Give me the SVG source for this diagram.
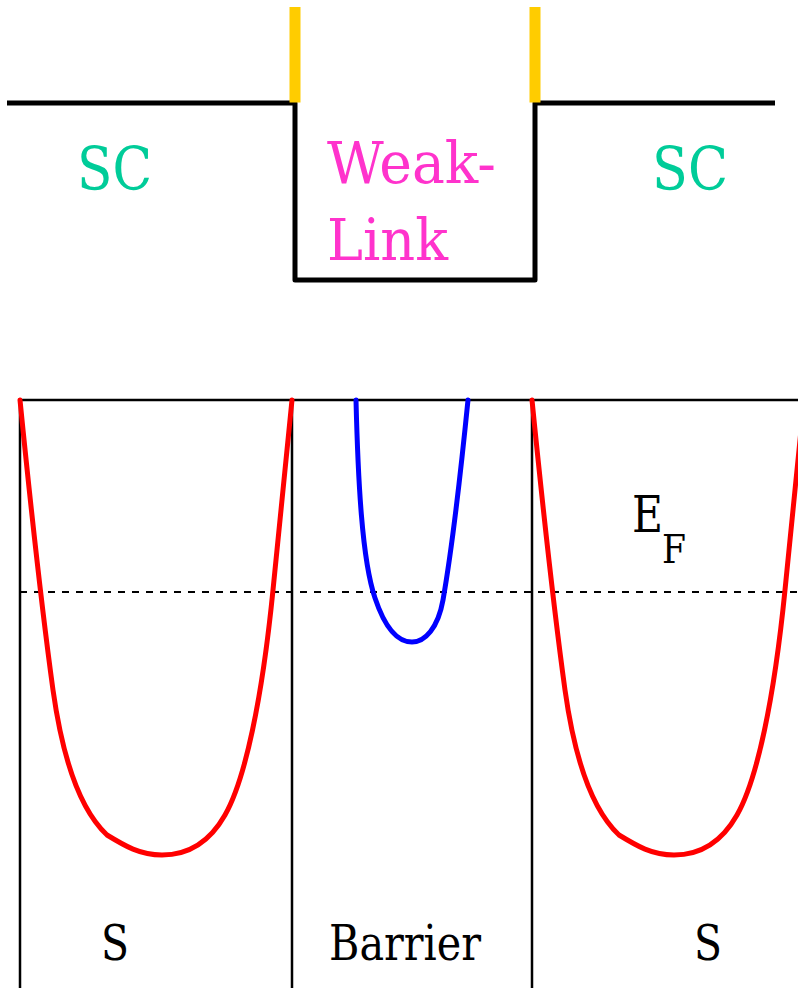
<svg xmlns="http://www.w3.org/2000/svg" xmlns:xlink="http://www.w3.org/1999/xlink" width="798" height="988" viewBox="0 0 798 988">
<style>
text{font-family:'DejaVu Serif','Liberation Serif',serif;}
.sc{fill:#00CC99;font-size:60px;}
.wl{fill:#FF33CC;font-size:57px;}
.lb{fill:#000;font-size:48px;}
.frame{stroke:#000;stroke-width:2.5;fill:none;}
.band{fill:none;stroke-width:5;stroke-linejoin:round;stroke-linecap:round;}
</style>
<defs>
<path id="sband" d="M20,400 C30,500 42,610 53,690 C60,740 75,805 107,835 C125,846 140,855 162,855 C185,855 208,845 225,815 C245,780 262,700 273,590 L292,400"/>
</defs>
<rect width="798" height="988" fill="#fff"/>
<g id="junction">
<path d="M7,103 H295 V280 H535 V103 H775" fill="none" stroke="#000" stroke-width="5" stroke-linejoin="round"/>
<rect x="289.5" y="7" width="11" height="95.5" fill="#FFCC00"/>
<rect x="529.5" y="7" width="11" height="95.5" fill="#FFCC00"/>
</g>
<g id="labels-top">
<text class="sc" x="77" y="190" textLength="75" lengthAdjust="spacingAndGlyphs">SC</text>
<text class="sc" x="652" y="190" textLength="76" lengthAdjust="spacingAndGlyphs">SC</text>
<text class="wl" x="327" y="183" textLength="169" lengthAdjust="spacingAndGlyphs">Weak-</text>
<text class="wl" x="327" y="260" textLength="121" lengthAdjust="spacingAndGlyphs">Link</text>
</g>
<g id="frame">
<path class="frame" d="M19,400 H798 M20,400 V988 M292,400 V988 M532,400 V988"/>
<line x1="20" y1="592" x2="798" y2="592" stroke="#000" stroke-width="2" stroke-dasharray="7,7"/>
</g>
<g id="bands">
<use xlink:href="#sband" class="band" stroke="#FF0000"/>
<use xlink:href="#sband" class="band" stroke="#FF0000" transform="translate(512,0)"/>
<path class="band" stroke="#0000FF" d="M356,400 C358,480 362,560 375,598 C385,628 398,642 412,642 C425,642 438,628 443,600 C450,560 460,480 468,400"/>
</g>
<g id="labels-bottom">
<text x="632" y="532" style="font-size:50px" textLength="31" lengthAdjust="spacingAndGlyphs">E</text>
<text x="662" y="563" style="font-size:39px" textLength="24" lengthAdjust="spacingAndGlyphs">F</text>
<text class="lb" x="101" y="960" textLength="28" lengthAdjust="spacingAndGlyphs">S</text>
<text class="lb" x="329" y="960" textLength="152" lengthAdjust="spacingAndGlyphs">Barrier</text>
<text class="lb" x="694" y="960" textLength="28" lengthAdjust="spacingAndGlyphs">S</text>
</g>
</svg>
